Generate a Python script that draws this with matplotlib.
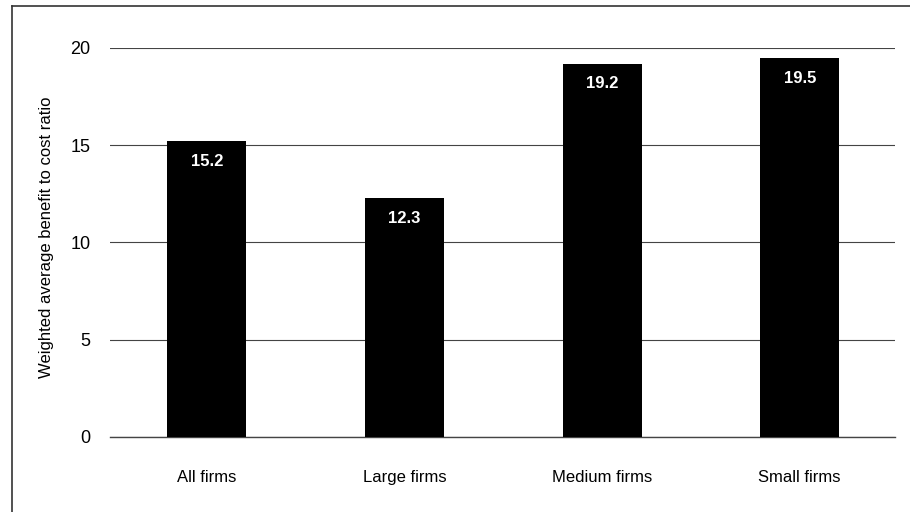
import matplotlib.pyplot as plt
from matplotlib.lines import Line2D

# Chart data
categories = ['All firms', 'Large firms', 'Medium firms', 'Small firms']
ratios = [15.2, 12.3, 19.2, 19.5]
y_ticks = [0, 5, 10, 15, 20]

plt.rcParams['font.family'] = ['Liberation Sans', 'DejaVu Sans']

fig = plt.figure(figsize=(9.1, 5.12), dpi=100)
ax = fig.add_axes([0.121, 0.1465, 0.862, 0.7598])

# Bars
bars = ax.bar(range(len(categories)), ratios, width=0.4, color='black', zorder=3)

# Value labels inside the top of each bar
for bar, val in zip(bars, ratios):
    ax.text(bar.get_x() + bar.get_width() / 2, val - 1.05, f'{val:.1f}',
            ha='center', va='center', color='white', fontsize=12,
            fontweight='bold', zorder=4)

ax.set_xlim(-0.49, 3.48)
ax.set_ylim(0, 20)
ax.set_yticks(y_ticks)
ax.set_xticks(range(len(categories)))
ax.set_xticklabels(categories, fontsize=12)
ax.tick_params(axis='both', length=0)
ax.tick_params(axis='y', pad=14, labelsize=13)
ax.tick_params(axis='x', pad=24, labelsize=12)
ax.yaxis.grid(True, color='#444444', linewidth=0.8, zorder=0)
ax.axhline(0, color='#444444', linewidth=1.0, clip_on=False, zorder=2)
for s in ax.spines.values():
    s.set_visible(False)

ax.set_ylabel('Weighted average benefit to cost ratio', fontsize=12)
ax.yaxis.set_label_coords(-0.071, 0.514)

# Frame around the figure (left and top edges, as in the scan)
fig.add_artist(Line2D([12 / 910, 12 / 910], [0, 1 - 6 / 512], color='#333333', linewidth=1.2))
fig.add_artist(Line2D([12 / 910, 1], [1 - 6 / 512, 1 - 6 / 512], color='#333333', linewidth=1.2))

fig.savefig('out.png', dpi=100)
